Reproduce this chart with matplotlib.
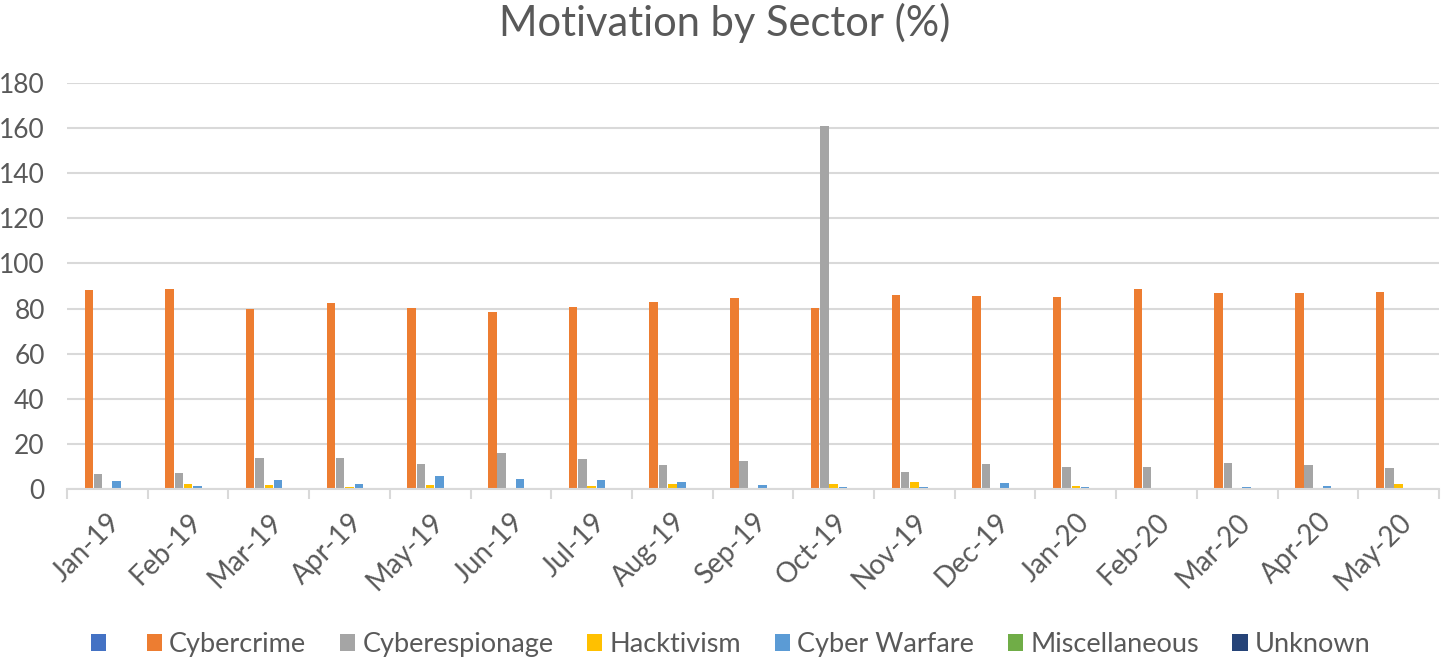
import matplotlib
matplotlib.use("Agg")
import matplotlib.pyplot as plt
import numpy as np
from matplotlib.patches import Patch

plt.rcParams['font.family'] = ['Lato', 'DejaVu Sans']

months = ["Jan-19", "Feb-19", "Mar-19", "Apr-19", "May-19", "Jun-19", "Jul-19",
          "Aug-19", "Sep-19", "Oct-19", "Nov-19", "Dec-19", "Jan-20", "Feb-20",
          "Mar-20", "Apr-20", "May-20"]

blank = [0] * 17
cybercrime = [88.1, 88.5, 79.7, 82.3, 80.1, 78.5, 80.6, 82.8, 84.6, 80.1,
              86.0, 85.5, 85.2, 88.8, 86.8, 86.8, 87.4]
cyberespionage = [6.6, 7.1, 13.7, 13.7, 11.0, 15.8, 13.3, 10.6, 12.4, 160.8,
                  7.5, 11.1, 9.7, 9.7, 11.5, 10.6, 9.3]
hacktivism = [0.5, 2.2, 1.8, 1.0, 1.8, 0.4, 1.3, 2.2, 0, 2.2,
              3.1, 0, 1.3, 0, 0, 0, 2.2]
cyber_warfare = [3.5, 1.3, 4.0, 2.2, 5.8, 4.4, 3.8, 3.1, 1.8, 0.9,
                 0.9, 2.7, 0.9, 0, 0.9, 1.3, 0]
miscellaneous = [0, 0, 0, 0, 0, 0, 0, 0, 0, 0, 0, 0, 0.4, 0.2, 0, 0, 0]
unknown = [0, 0, 0, 0, 0, 0, 0, 0, 0.4, 0, 0.4, 0, 0, 0, 0.4, 0, 0]

series_names = ["", "Cybercrime", "Cyberespionage", "Hacktivism",
                "Cyber Warfare", "Miscellaneous", "Unknown"]
series = [blank, cybercrime, cyberespionage, hacktivism, cyber_warfare,
          miscellaneous, unknown]
colors = ["#4472C4", "#ED7D31", "#A5A5A5", "#FFC000", "#5B9BD5",
          "#70AD47", "#264478"]

fig = plt.figure(figsize=(14.41, 6.58), dpi=100)
ax = fig.add_axes([67 / 1441, (658 - 489) / 658, (1439 - 67) / 1441, (489 - 83) / 658])

x = np.arange(len(months))
step = 0.115
bw = 0.105
for i, (vals, c) in enumerate(zip(series, colors)):
    ax.bar(x + (i - 3) * step, vals, width=bw, color=c, zorder=3)

ax.set_xlim(-0.5, len(months) - 0.5)
ax.set_ylim(0, 180)
ax.set_yticks(np.arange(0, 181, 20))
ax.yaxis.grid(True, color="#D9D9D9", linewidth=1.5, zorder=0)
ax.tick_params(axis='y', length=0, labelsize=19, labelcolor="#595959", pad=16)

ax.set_xticks(x)
ax.set_xticklabels(months, rotation=45, ha='right', rotation_mode='anchor',
                   fontsize=20, color="#595959")
ax.tick_params(axis='x', which='major', length=0, pad=14)
ax.set_xticks(np.arange(-0.5, len(months), 1.0), minor=True)
ax.tick_params(axis='x', which='minor', length=7, width=1.5, color="#D9D9D9",
               direction='out')

for s in ['top', 'right', 'left']:
    ax.spines[s].set_visible(False)
ax.spines['bottom'].set_color("#D9D9D9")
ax.spines['bottom'].set_linewidth(1.5)
ax.spines['bottom'].set_zorder(4)

fig.suptitle("Motivation by Sector (%)", x=0.503, y=0.995, va='top',
             fontsize=30, color="#595959")

handles = [Patch(facecolor=c) for c in colors]
fig.legend(handles, series_names, loc='center', bbox_to_anchor=(0.507, 0.0205),
           ncol=7, frameon=False, fontsize=19.5, labelcolor="#595959",
           handlelength=0.56, handleheight=0.6, handletextpad=0.27,
           columnspacing=1.24)

fig.savefig("out.png", dpi=100)
